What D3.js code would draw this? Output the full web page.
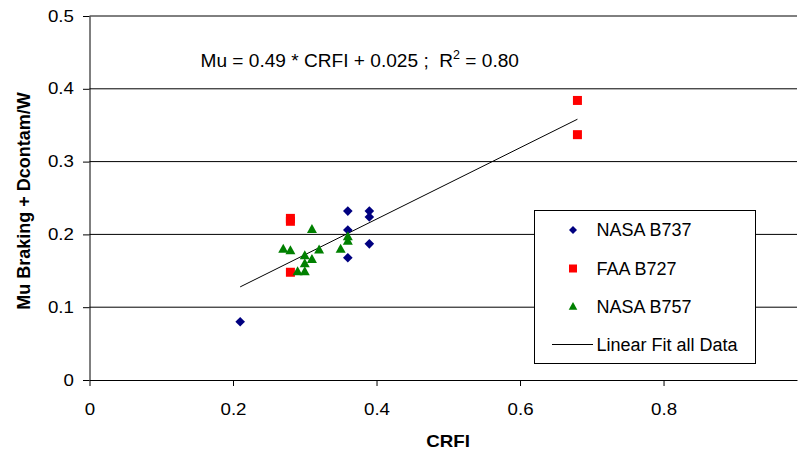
<!DOCTYPE html>
<html>
<head>
<meta charset="utf-8">
<script src="https://cdn.jsdelivr.net/npm/d3@7"></script>
<style>
  body { margin: 0; background: #fff; }
  svg { display: block; font-family: Arial, "Liberation Sans", sans-serif; }
</style>
</head>
<body>
<svg id="chart" width="799" height="451"></svg>
<script>
// Braking friction vs. CRFI, three aircraft test programs
const b737Crfi = [0.21, 0.36, 0.39, 0.39, 0.36, 0.39, 0.36];
const b737Mu   = [0.080, 0.232, 0.232, 0.224, 0.206, 0.187, 0.168];

const b727Crfi = [0.28, 0.28, 0.28, 0.68, 0.68];
const b727Mu   = [0.218, 0.222, 0.148, 0.384, 0.337];

const b757Crfi = [0.31, 0.27, 0.28, 0.30, 0.32, 0.31, 0.30, 0.29, 0.30, 0.35, 0.36, 0.36];
const b757Mu   = [0.207, 0.180, 0.178, 0.171, 0.179, 0.166, 0.160, 0.149, 0.149, 0.180, 0.197, 0.191];

// Linear fit over all data: Mu = slope * CRFI + intercept
const fitSlope = 0.49;
const fitIntercept = 0.025;
const fitRange = [0.21, 0.68];

const xTicks = [0, 0.2, 0.4, 0.6, 0.8];
const yTicks = [0, 0.1, 0.2, 0.3, 0.4, 0.5];

const seriesNames = ["NASA B737", "FAA B727", "NASA B757"];
const fitName = "Linear Fit all Data";

const svg = d3.select("#chart");

const xMax = 0.986;
const x = d3.scaleLinear().domain([0, xMax]).range([89.5, 797]);
const y = d3.scaleLinear().domain([0, 0.5]).range([380, 16]);

// horizontal gridlines
svg.append("g")
  .selectAll("line")
  .data(yTicks.slice(1))
  .join("line")
  .attr("x1", x(0)).attr("x2", x(xMax))
  .attr("y1", d => y(d)).attr("y2", d => y(d))
  .attr("stroke", "#000").attr("stroke-width", 1);

// axes
const xAxis = svg.append("g")
  .attr("transform", `translate(0,${y(0)})`)
  .call(d3.axisBottom(x).tickValues(xTicks).tickFormat(d3.format(""))
    .tickSizeInner(6).tickSizeOuter(0).tickPadding(18));
const yAxis = svg.append("g")
  .attr("transform", `translate(${x(0)},0)`)
  .call(d3.axisLeft(y).tickValues(yTicks).tickFormat(d3.format(""))
    .tickSizeInner(6.5).tickSizeOuter(0).tickPadding(6.8));

[xAxis, yAxis].forEach(g => {
  g.select(".domain").attr("stroke", "#000");
  g.selectAll(".tick line").attr("stroke", "#000");
  g.selectAll(".tick text")
    .attr("font-size", 16).attr("fill", "#000")
    .attr("font-family", "Arial, 'Liberation Sans', sans-serif")
    .attr("transform", "scale(1.17,1)");
});

// axis titles
svg.append("text")
  .attr("transform", "translate(448,447) scale(1.17,1)")
  .attr("text-anchor", "middle")
  .attr("font-size", 16).attr("font-weight", "bold")
  .text("CRFI");
svg.append("text")
  .attr("transform", "translate(29.5,201) rotate(-90)")
  .attr("text-anchor", "middle")
  .attr("font-size", 18).attr("font-weight", "bold")
  .text("Mu Braking + Dcontam/W");

// fit line
svg.append("line")
  .attr("x1", x(fitRange[0])).attr("y1", y(fitSlope * fitRange[0] + fitIntercept))
  .attr("x2", x(fitRange[1])).attr("y2", y(fitSlope * fitRange[1] + fitIntercept))
  .attr("stroke", "#000").attr("stroke-width", 1);

// marker shapes
const diamond = s => `M0,${-s}L${s},0L0,${s}L${-s},0Z`;
const square = s => `M${-s},${-s}H${s}V${s}H${-s}Z`;
const triangle = s => `M0,${-s * 1.05}L${s},${s * 0.75}L${-s},${s * 0.75}Z`;

function drawSeries(xs, ys, path, color) {
  svg.append("g")
    .selectAll("path")
    .data(xs.map((v, i) => [v, ys[i]]))
    .join("path")
    .attr("transform", d => `translate(${x(d[0])},${y(d[1])})`)
    .attr("d", path)
    .attr("fill", color);
}
drawSeries(b737Crfi, b737Mu, diamond(4.8), "#000080");
drawSeries(b727Crfi, b727Mu, square(4.5), "#ff0000");
drawSeries(b757Crfi, b757Mu, triangle(5), "#008000");

// regression equation
const eq = svg.append("text")
  .attr("x", 200.5).attr("y", 66.5)
  .attr("font-size", 19.1).attr("fill", "#000");
eq.append("tspan").text("Mu = 0.49 * CRFI + 0.025 ;\u00a0 R");
eq.append("tspan").attr("dy", -7.5).attr("font-size", 12.5).text("2");
eq.append("tspan").attr("dy", 7.5).text(" = 0.80");

// legend
const lg = svg.append("g");
lg.append("rect")
  .attr("x", 534.5).attr("y", 210.5).attr("width", 221).attr("height", 153)
  .attr("fill", "#fff").attr("stroke", "#000").attr("stroke-width", 1);
const rowY = [230, 268.5, 306.5, 344.5];
const markers = [
  { d: diamond(4), c: "#000080" },
  { d: square(4), c: "#ff0000" },
  { d: triangle(4.3), c: "#008000" }
];
markers.forEach((m, i) => {
  lg.append("path").attr("transform", `translate(573,${rowY[i]})`).attr("d", m.d).attr("fill", m.c);
});
lg.append("line").attr("x1", 552).attr("x2", 593).attr("y1", rowY[3]).attr("y2", rowY[3])
  .attr("stroke", "#000").attr("stroke-width", 1);
lg.selectAll("text.lbl")
  .data(seriesNames.concat([fitName]))
  .join("text")
  .attr("class", "lbl")
  .attr("x", 596.5).attr("y", (d, i) => rowY[i] + 6.3)
  .attr("font-size", 18).attr("fill", "#000")
  .text(d => d);
</script>
</body>
</html>
